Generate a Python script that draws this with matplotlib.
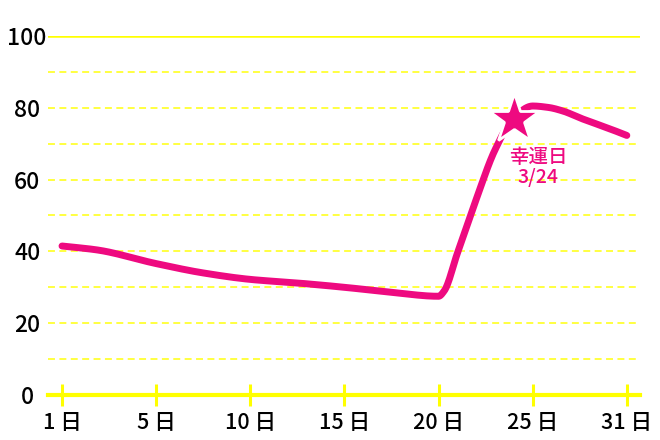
import numpy as np
import matplotlib
matplotlib.use('Agg')
import matplotlib.pyplot as plt

plt.rcParams['font.family'] = ['Noto Sans CJK JP', 'DejaVu Sans']
plt.rcParams['lines.scale_dashes'] = False

# tick days on the x axis (spaced evenly, not by date)
tick_days = [1, 5, 10, 15, 20, 25, 31]
tick_labels = ['1 日', '5 日', '10 日', '15 日', '20 日', '25 日', '31 日']

# line (day, value)
days = [1, 2.5, 5, 7.5, 10, 12.5, 15, 17.5, 20,
        20.3, 21, 22, 23, 24, 25, 26, 27, 28, 29, 30, 31]
values = [41.5, 40.4, 36.6, 34.0, 32.2, 31.2, 30.0, 28.6, 27.5,
          29.0, 39.5, 54.5, 68.3, 77.3, 80.5, 80.1, 79.0, 77.2, 75.6, 74.0, 72.3]

lucky_day = 24
lucky_value = 76.8
lucky_text = '幸運日\n3/24'

yticks = [0, 20, 40, 60, 80, 100]
grid_vals = [10, 20, 30, 40, 50, 60, 70, 80, 90]

pink = '#ee0a80'
yellow = '#ffff00'
yellow_light = '#ffff40'

tick_pos = np.arange(len(tick_days))


def to_pos(d):
    return np.interp(d, tick_days, tick_pos)


def smooth(x, y, n=20):
    # monotone cubic (Fritsch-Carlson), only for drawing the curve
    x = np.asarray(x, float)
    y = np.asarray(y, float)
    h = np.diff(x)
    d = np.diff(y) / h
    m = np.zeros_like(y)
    m[0], m[-1] = d[0], d[-1]
    for k in range(1, len(x) - 1):
        if d[k - 1] * d[k] > 0:
            w1 = 2 * h[k] + h[k - 1]
            w2 = h[k] + 2 * h[k - 1]
            m[k] = (w1 + w2) / (w1 / d[k - 1] + w2 / d[k])
    xs, ys = [], []
    for k in range(len(h)):
        t = np.linspace(0, 1, n, endpoint=False)
        h00 = 2 * t**3 - 3 * t**2 + 1
        h10 = t**3 - 2 * t**2 + t
        h01 = -2 * t**3 + 3 * t**2
        h11 = t**3 - t**2
        xs.append(x[k] + t * h[k])
        ys.append(h00 * y[k] + h10 * h[k] * m[k] + h01 * y[k + 1] + h11 * h[k] * m[k + 1])
    xs.append([x[-1]])
    ys.append([y[-1]])
    return np.concatenate(xs), np.concatenate(ys)


fig = plt.figure(figsize=(6.6, 4.4), dpi=100)
ax = fig.add_axes([48 / 660, 45 / 440, 592 / 660, 359 / 440])
ax.set_xlim(-0.149, 6.14)
ax.set_ylim(0, 100)

for g in grid_vals:
    ax.axhline(g, color=yellow_light, lw=1.4, dashes=(5, 3.2), zorder=1)
ax.axhline(100, color=yellow, lw=1.8, zorder=1)

sx, sy = smooth(to_pos(days), values)
ax.plot(sx, sy, color=pink, lw=5, solid_capstyle='round',
        solid_joinstyle='round', zorder=3)
ax.plot(to_pos(lucky_day), lucky_value, marker='*', markersize=38, color=pink,
        markeredgecolor='white', markeredgewidth=2, zorder=4)
ax.text(to_pos(lucky_day) + 0.26, 63.4, lucky_text, color=pink, fontsize=14,
        fontweight='medium', ha='center', va='center', linespacing=1.1, zorder=5)

for s in ['top', 'right', 'left']:
    ax.spines[s].set_visible(False)
ax.spines['bottom'].set_color(yellow)
ax.spines['bottom'].set_linewidth(3)
ax.spines['bottom'].set_zorder(2)

ax.set_xticks(tick_pos)
ax.set_xticklabels(tick_labels, fontweight='medium')
ax.tick_params(axis='x', direction='inout', length=16, width=2.2, color=yellow,
               labelsize=15.5, pad=4)
ax.set_yticks(yticks)
ax.set_yticklabels([str(v) for v in yticks], fontweight='medium')
ax.tick_params(axis='y', length=0, labelsize=16.5, pad=15)
for lab in ax.get_yticklabels():
    lab.set_horizontalalignment('center')

fig.savefig('out.png', dpi=100, facecolor='white')
